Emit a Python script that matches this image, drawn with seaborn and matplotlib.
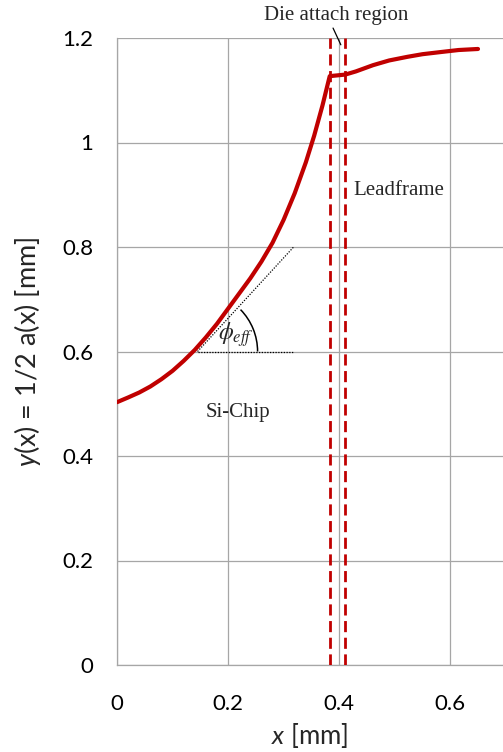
import numpy as np
import pandas as pd
import matplotlib
matplotlib.use("Agg")
import matplotlib.pyplot as plt
import seaborn as sns
from matplotlib.patches import Arc

# chip profile, die attach step and leadframe profile
chip_x = [0, 0.02, 0.04, 0.06, 0.08, 0.10, 0.12, 0.14, 0.16, 0.18, 0.20, 0.22,
          0.24, 0.26, 0.28, 0.30, 0.32, 0.34, 0.355, 0.37, 0.383]
chip_y = [0.503, 0.512, 0.5215, 0.533, 0.547, 0.563, 0.582, 0.603, 0.627, 0.653,
          0.682, 0.711, 0.740, 0.772, 0.808, 0.852, 0.903, 0.962, 1.013, 1.071, 1.127]
lead_x = [0.411, 0.43, 0.461, 0.49, 0.523, 0.55, 0.582, 0.615, 0.650]
lead_y = [1.130, 1.136, 1.148, 1.157, 1.164, 1.169, 1.173, 1.177, 1.179]
die_attach_edges = [0.383, 0.411]

# effective angle construction
tangent_x = [0.145, 0.318]
tangent_y = [0.60, 0.80]
horiz_x = [0.145, 0.318]
horiz_y = [0.60, 0.60]

x_ticks = [0, 0.2, 0.4, 0.6]
x_ticklabels = ["0", "0.2", "0.4", "0.6"]
y_ticks = [0, 0.2, 0.4, 0.6, 0.8, 1.0, 1.2]
y_ticklabels = ["0", "0.2", "0.4", "0.6", "0.8", "1", "1.2"]

df = pd.DataFrame({"x": chip_x + lead_x, "y": chip_y + lead_y})

sns.set_theme(style="white")
plt.rcParams["font.family"] = ["Lato", "DejaVu Sans"]
plt.rcParams["mathtext.fontset"] = "custom"
plt.rcParams["mathtext.rm"] = "Lato"
plt.rcParams["mathtext.it"] = "Lato:italic"

RED = "#c00000"
GRID = "#a6a6a6"
SERIF = "Liberation Serif"

fig = plt.figure(figsize=(5.03, 7.52), dpi=100)
ax = fig.add_axes([117 / 503, 87 / 752, 386 / 503, 627 / 752])

ax.grid(True, color=GRID, lw=0.9)
ax.set_axisbelow(True)

for xe in die_attach_edges:
    ax.axvline(xe, color=RED, lw=2.0, ls=(0, (4, 2)), zorder=3)

sns.lineplot(data=df, x="x", y="y", sort=False, color=RED, lw=3, ax=ax, zorder=4,
             solid_joinstyle="round", solid_capstyle="round")

ax.plot(tangent_x, tangent_y, color="black", lw=0.9, ls=(0, (1, 1.2)), zorder=2)
ax.plot(horiz_x, horiz_y, color="black", lw=0.9, ls=(0, (1, 1.2)), zorder=2)
ax.add_patch(Arc((horiz_x[0], horiz_y[0]), 2 * 60 / 555, 2 * 60 / 522.5,
                 theta1=0, theta2=46, color="black", lw=1.1, zorder=5))
ax.text(0.214, 0.633, r"$\phi_{eff}$", math_fontfamily="stix", fontsize=17,
        ha="center", va="center", zorder=6)

ax.text(0.159, 0.475, "Si-Chip", family=SERIF, fontsize=15, va="baseline")
ax.text(0.425, 0.90, "Leadframe", family=SERIF, fontsize=15, va="baseline")
ax.text(0.395, 1.234, "Die attach region", family=SERIF, fontsize=15,
        ha="center", va="baseline", clip_on=False)
ax.plot([0.389, 0.403], [1.219, 1.187], color="black", lw=0.9, clip_on=False)

ax.set_xlim(0, 0.695)
ax.set_ylim(0, 1.2)
ax.set_xticks(x_ticks)
ax.set_xticklabels(x_ticklabels)
ax.set_yticks(y_ticks)
ax.set_yticklabels(y_ticklabels)
ax.tick_params(axis="both", direction="out", length=5, width=0.9, color=GRID,
               labelsize=16, labelcolor="black", pad=12)
ax.tick_params(axis="x", pad=16)

for s in ["top", "right"]:
    ax.spines[s].set_visible(False)
for s in ["left", "bottom"]:
    ax.spines[s].set_color(GRID)
    ax.spines[s].set_linewidth(0.9)

ax.set_xlabel(r"$x$ [mm]", fontsize=18.5, labelpad=5)
ax.set_ylabel(r"$y$(x) = 1/2 a(x) [mm]", fontsize=19.5, labelpad=14)

fig.savefig("out.png", dpi=100)
